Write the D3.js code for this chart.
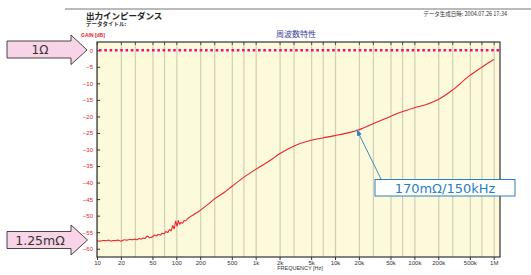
<!DOCTYPE html>
<html>
<head>
<meta charset="utf-8">
<script src="https://cdn.jsdelivr.net/npm/d3@7"></script>
<style>
  body { margin: 0; background: #fff; }
  svg { display: block; }
  .jp { font-family: "Noto Sans CJK JP", sans-serif; }
  .tick text { font-family: "Liberation Sans Narrow", "Liberation Sans", sans-serif; }
</style>
</head>
<body>
<svg width="531" height="275"></svg>
<script>
const freqs = [10, 11, 12, 13, 14, 15, 16, 17, 18, 19, 20, 22, 24, 26, 28, 30, 32, 34, 36, 38, 40, 43, 46, 50, 53, 56, 60, 63, 66, 70, 74, 78, 82, 86, 90, 94, 98, 102, 106, 110, 115, 120, 125, 130, 140, 150, 160, 170, 180, 190, 200,
  250, 300, 400, 500, 700, 1000, 1500, 2000, 3000, 5000, 7000, 10000, 15000, 20000, 30000, 50000, 70000, 100000, 150000, 200000, 300000, 500000, 700000, 1000000];
const gains = [-57.6, -57.7, -57.5, -57.6, -57.4, -57.7, -57.5, -57.6, -57.4, -57.5, -57.7, -57.3, -57.4, -57.2, -57.3, -57.1, -57.3, -56.9, -57.1, -56.8, -56.9, -56.2, -56.7, -56.4, -55.9, -56.1, -55.6, -55.9, -55.3, -55.5, -54.8, -55.1, -54.2, -54.6, -53.0, -54.0, -51.6, -53.2, -51.5, -52.6, -52.0, -52.3, -51.5, -51.6, -50.8, -50.3, -49.9, -49.5, -49.1, -48.8, -48.4,
  -46.6, -45.0, -43.0, -41.2, -38.5, -36.0, -33.4, -31.3, -29.0, -27.2, -26.5, -25.8, -24.9, -24.0, -22.2, -20.0, -18.6, -17.4, -16.2, -14.9, -12.1, -7.6, -5.2, -2.8];

const gridFreqs = [10, 20, 30, 50, 70, 100, 200, 300, 500, 700, 1e3, 2e3, 3e3, 5e3, 7e3, 1e4, 2e4, 3e4, 5e4, 7e4, 1e5, 2e5, 3e5, 5e5, 7e5, 1e6];
const labelFreqs = [10, 20, 50, 100, 200, 500, 1e3, 2e3, 5e3, 1e4, 2e4, 5e4, 1e5, 2e5, 5e5, 1e6];
const freqLabels = ["10", "20", "50", "100", "200", "500", "1k", "2k", "5k", "10k", "20k", "50k", "100k", "200k", "500k", "1M"];
const gainTicks = [0, -5, -10, -15, -20, -25, -30, -35, -40, -45, -50, -55, -60];

const svg = d3.select("svg");
const plotL = 97, plotR = 500, plotT = 42, plotB = 257;

const x = d3.scaleLog().domain([10, 1.2e6]).range([plotL, plotR]);
const y = d3.scaleLinear().domain([-62.5, 2.5]).range([plotB, plotT]);

// header
svg.append("line").attr("x1", 65).attr("x2", 531).attr("y1", 9).attr("y2", 9)
  .attr("stroke", "#777").attr("stroke-width", 1);
svg.append("text").attr("class", "jp").attr("x", 86).attr("y", 19)
  .attr("font-size", 8.5).attr("font-weight", "bold").attr("fill", "#222").text("出力インピーダンス");
svg.append("text").attr("class", "jp").attr("x", 86).attr("y", 25.5)
  .attr("font-size", 5.5).attr("font-weight", "bold").attr("fill", "#333").text("データタイトル:");
svg.append("text").attr("class", "jp").attr("x", 507).attr("y", 16).attr("text-anchor", "end")
  .attr("font-size", 5.5).attr("fill", "#333").text("データ生成日時: 2004.07.26 17:34");
svg.append("text").attr("x", 81).attr("y", 37).attr("font-family", "Liberation Sans, sans-serif")
  .attr("font-size", 5).attr("font-weight", "bold").attr("fill", "#e5202a").text("GAIN [dB]");
svg.append("text").attr("class", "jp").attr("x", 296).attr("y", 37).attr("text-anchor", "middle")
  .attr("font-size", 8).attr("fill", "#3b3fa0").text("周波数特性");

// plot background
svg.append("rect").attr("x", plotL).attr("y", plotT).attr("width", plotR - plotL).attr("height", plotB - plotT)
  .attr("fill", "#fdfadb");

// vertical grid
svg.append("g").attr("transform", `translate(0,${plotB})`)
  .call(d3.axisBottom(x).tickValues(gridFreqs).tickSize(-(plotB - plotT)).tickFormat(""))
  .call(g => g.select(".domain").remove())
  .call(g => g.selectAll("line").attr("stroke", "#d0cdb8").attr("stroke-width", 1.2));

// small ticks on top and bottom
svg.append("g").attr("transform", `translate(0,${plotT})`)
  .call(d3.axisTop(x).tickValues(gridFreqs).tickSize(-3).tickFormat(""))
  .call(g => g.select(".domain").remove())
  .call(g => g.selectAll("line").attr("stroke", "#555"));
svg.append("g").attr("transform", `translate(0,${plotB})`)
  .call(d3.axisBottom(x).tickValues(labelFreqs).tickSize(3).tickPadding(1)
    .tickFormat((d, i) => freqLabels[i]))
  .call(g => g.select(".domain").remove())
  .call(g => g.selectAll("line").attr("stroke", "#333"))
  .call(g => g.selectAll("text").attr("font-size", 6).attr("fill", "#333"));

// y axis
svg.append("g").attr("transform", `translate(${plotL},0)`)
  .call(d3.axisLeft(y).tickValues(gainTicks).tickSize(-3).tickPadding(4))
  .call(g => g.select(".domain").remove())
  .call(g => g.selectAll("line").attr("stroke", "#333"))
  .call(g => g.selectAll("text").attr("font-size", 6).attr("fill", "#e5202a")
    .text(d => d === 0 ? "0" : "\u2212" + Math.abs(d)));

// 0 dB reference
svg.append("line").attr("x1", plotL + 2).attr("x2", plotR).attr("y1", y(0)).attr("y2", y(0))
  .attr("stroke", "#f0107a").attr("stroke-width", 2.6).attr("stroke-dasharray", "2.6,2.7");

// curve
const line = d3.line().x((d, i) => x(freqs[i])).y(d => y(d)).curve(d3.curveMonotoneX);
svg.append("path").datum(gains).attr("d", line)
  .attr("fill", "none").attr("stroke", "#e8232b").attr("stroke-width", 1.1);

// frame
svg.append("rect").attr("x", plotL).attr("y", plotT).attr("width", plotR - plotL).attr("height", plotB - plotT)
  .attr("fill", "none").attr("stroke", "#333").attr("stroke-width", 1.2);

svg.append("text").attr("x", 300).attr("y", 270).attr("text-anchor", "middle")
  .attr("font-family", "Liberation Sans Narrow, Liberation Sans, sans-serif")
  .attr("font-size", 5.5).attr("fill", "#333").text("FREQUENCY [Hz]");

// arrow labels on the left
function arrowLabel(cy, rectTop, rectBot, headTop, headBot, tipX, label, fs) {
  const pts = [[7, rectTop], [71, rectTop], [71, headTop], [tipX, cy], [71, headBot], [71, rectBot], [7, rectBot]];
  svg.append("polygon").attr("points", pts.map(p => p.join(",")).join(" "))
    .attr("fill", "#f9d3e6").attr("stroke", "#333").attr("stroke-width", 0.9);
  svg.append("text").attr("x", 40).attr("y", (rectTop + rectBot) / 2 + fs * 0.36)
    .attr("text-anchor", "middle").attr("font-family", "DejaVu Sans, sans-serif")
    .attr("font-size", fs).attr("fill", "#333").text(label);
}
arrowLabel(50, 41, 58, 35, 64.5, 87, "1\u03a9", 12);
arrowLabel(240, 231.5, 248.5, 225, 255, 87.5, "1.25m\u03a9", 12.5);

// callout
const tipF = 18800, tipG = -24;
svg.append("defs").append("marker").attr("id", "ah").attr("viewBox", "0 0 10 10")
  .attr("refX", 10).attr("refY", 5).attr("markerWidth", 7).attr("markerHeight", 7).attr("orient", "auto")
  .append("path").attr("d", "M0,1 L10,5 L0,9 Z").attr("fill", "#2a7fc0");
svg.append("line").attr("x1", 381).attr("y1", 179).attr("x2", x(tipF)).attr("y2", y(tipG))
  .attr("stroke", "#2a7fc0").attr("stroke-width", 0.9).attr("marker-end", "url(#ah)");
svg.append("rect").attr("x", 375).attr("y", 179.5).attr("width", 140).attr("height", 16.5)
  .attr("fill", "#fff").attr("stroke", "#2a80c0").attr("stroke-width", 1);
svg.append("text").attr("x", 445).attr("y", 192.5).attr("text-anchor", "middle")
  .attr("font-family", "DejaVu Sans, sans-serif").attr("font-size", 13).attr("fill", "#2a7fc0")
  .text("170m\u03a9/150kHz");
</script>
</body>
</html>
